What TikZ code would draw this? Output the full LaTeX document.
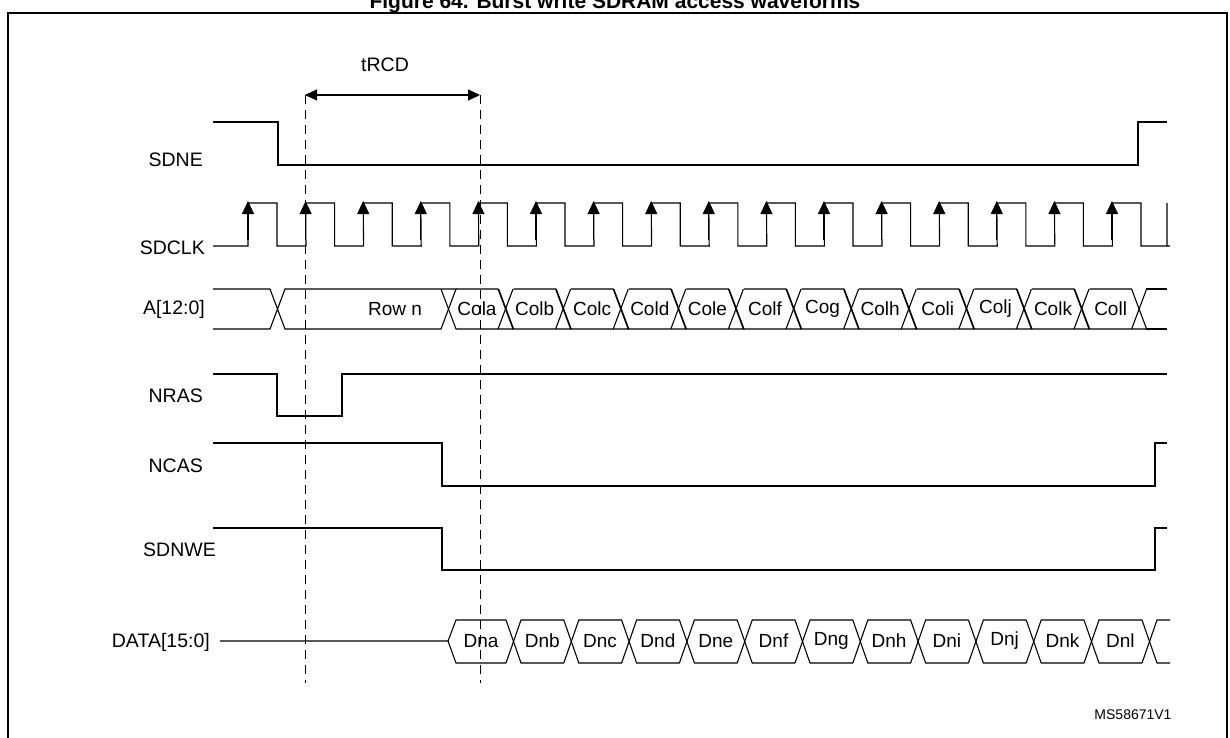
\documentclass[tikz,border=0pt]{standalone}
\usepackage{fontspec}
\setmainfont{Liberation Sans}
\usetikzlibrary{arrows.meta}
\begin{document}
\begin{tikzpicture}[x=1pt,y=-1pt,
  sig/.style={line width=1.1pt},
  lbl/.style={anchor=east,font=\fontsize{19.5}{22}\selectfont,inner sep=0pt},
  cell/.style={font=\fontsize{19}{22}\selectfont,inner sep=0pt},
  clkarrow/.style={-{Triangle[length=13pt,width=12pt]},line width=1.1pt},
  dashln/.style={line width=0.9pt,dash pattern=on 9pt off 6pt}]
\useasboundingbox (0,0) rectangle (1230,737);
\clip (0,0) rectangle (1230,737);
\node[font=\bfseries\fontsize{21}{24}\selectfont,anchor=base] (title) at (615,8) {Figure 64. Burst write SDRAM access waveforms};
\draw[line width=1.6pt] (8,13) -- (1227,13) -- (1227,745) -- (8,745) -- cycle;
% labels
\node[lbl] (lSDNE) at (203,160) {SDNE};
\node[lbl] (lCLK) at (205,248) {SDCLK};
\node[lbl] (lA) at (205,309) {A[12:0]};
\node[lbl] (lNRAS) at (203,396) {NRAS};
\node[lbl] (lNCAS) at (203,466) {NCAS};
\node[lbl] (lWE) at (216,550) {SDNWE};
\node[lbl] (lD) at (210,642) {DATA[15:0]};
% SDNE
\draw[sig] (213,122) -- (278,122) -- (278,165) -- (1138,165) -- (1138,122) -- (1167,122);
% SDCLK
\draw[sig] (213,246) -- (248,246)
  \foreach \k in {0,...,15} { -- ({248+57.6*\k},203) -- ({277+57.6*\k},203) -- ({277+57.6*\k},246) -- ({306+57.6*\k},246) } -- (1167,246) -- (1167,203);
\foreach \k in {0,...,15} \draw[clkarrow] ({248+57.6*\k},240) -- ({248+57.6*\k},201);
% A[12:0]
\draw[sig] (213,289) -- (270,289) -- (285,329) -- (441,329) -- (456,289) -- (441,289) -- (285,289) -- (270,329) -- (213,329);
\node[cell] (rown) at (395,309) {Row n};
\foreach \k/\t in {0/Cola,1/Colb,2/Colc,3/Cold,4/Cole,5/Colf,6/Cog,7/Colh,8/Coli,9/Colj,10/Colk,11/Coll} {
  \draw[sig] ({456+57.6*\k},289) -- ({498+57.6*\k},289) -- ({513+57.6*\k},329) -- ({456+57.6*\k},329) -- ({441+57.6*\k},289);
  \draw[sig] ({498+57.6*\k},329) -- ({513+57.6*\k},289);
  \node[cell] (c\k) at ({477+57.6*\k},309) {\t};
}
\draw[sig] (1146,289) -- (1167,289); \draw[sig] (1146,329) -- (1167,329);
% NRAS
\draw[sig] (213,374) -- (277,374) -- (277,416) -- (342,416) -- (342,374) -- (1167,374);
% NCAS
\draw[sig] (213,443) -- (442,443) -- (442,486) -- (1155,486) -- (1155,443) -- (1167,443);
% SDNWE
\draw[sig] (213,528) -- (442,528) -- (442,570) -- (1155,570) -- (1155,528) -- (1167,528);
% DATA
\draw[sig] (220,641) -- (448,641) -- (456,620) -- (506,620);
\draw[sig] (448,641) -- (456,663) -- (506,663);
\foreach \k in {0,...,10} {
  \draw[sig] ({506+57.8*\k},620) -- ({521+57.8*\k},663) -- ({564+57.8*\k},663);
  \draw[sig] ({506+57.8*\k},663) -- ({521+57.8*\k},620) -- ({564+57.8*\k},620);
}
\draw[sig] (1142,620) -- (1157,663) -- (1170,663);
\draw[sig] (1142,663) -- (1157,620) -- (1170,620);
\node[cell] (d0) at (481,641) {Dna};
\foreach \k/\t in {1/Dnb,2/Dnc,3/Dnd,4/Dne,5/Dnf,6/Dng,7/Dnh,8/Dni,9/Dnj,10/Dnk,11/Dnl}
  \node[cell] (d\k) at ({484.5+57.8*\k},641) {\t};
% dashed + tRCD
\coordinate (t1) at (305,95); \coordinate (t2) at (480,95);
\coordinate (b1) at (305,683); \coordinate (b2) at (480,683);
\draw[dashln] (t1) -- (b1);
\draw[dashln] (t2) -- (b2);
\draw[line width=1.1pt,{Triangle[length=12pt,width=11pt]}-{Triangle[length=12pt,width=11pt]}] (t1) -- (t2);
\node[font=\fontsize{19.5}{22}\selectfont] (trcd) at (385,65) {tRCD};
\node[font=\fontsize{14}{16}\selectfont] (ms) at (1133,715) {MS58671V1};
\end{tikzpicture}
\end{document}
